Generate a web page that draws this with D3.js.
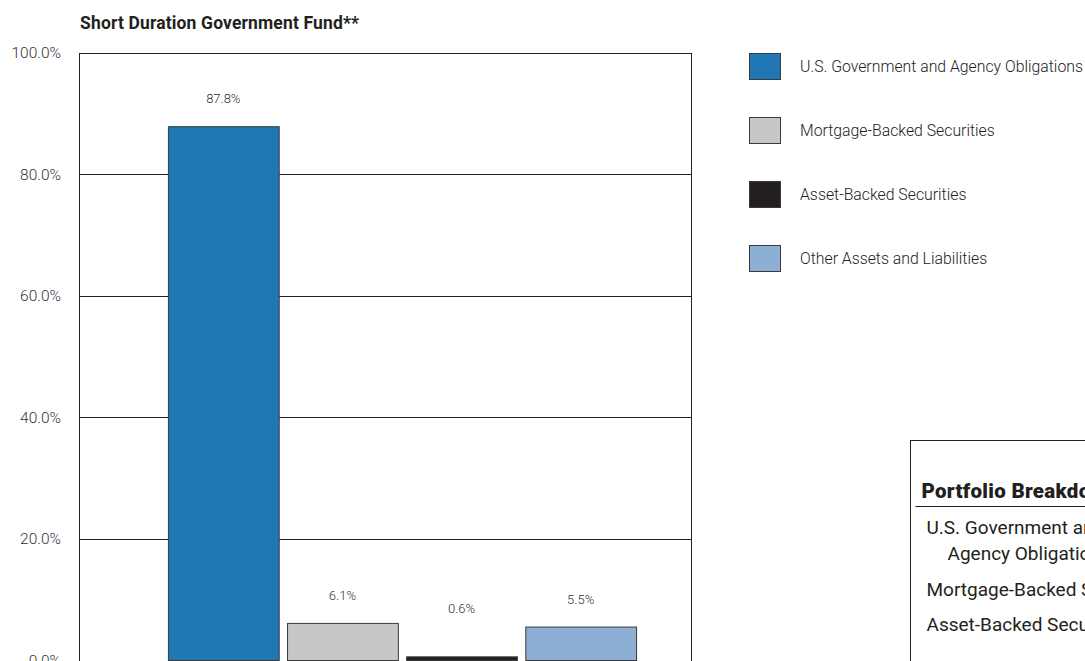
<!DOCTYPE html>
<html>
<head>
<meta charset="utf-8">
<script src="https://cdn.jsdelivr.net/npm/d3@7/dist/d3.min.js"></script>
<style>
  html, body { margin: 0; padding: 0; background: #fff; }
  svg { display: block; font-family: Roboto, "Open Sans", "DejaVu Sans", sans-serif; }
</style>
</head>
<body>
<svg id="chart" width="1085" height="661"></svg>
<script>
// Portfolio composition, percent of net assets
const categories = [
  "U.S. Government and Agency Obligations",
  "Mortgage-Backed Securities",
  "Asset-Backed Securities",
  "Other Assets and Liabilities"
];
const values = [87.8, 6.1, 0.6, 5.5];
const colors = ["#1f77b5", "#c6c7c9", "#231f20", "#8daed5"];
const yTicks = [0, 20, 40, 60, 80, 100];
const title = "Short Duration Government Fund**";
const tableTitle = "Portfolio Breakdown";
const tableRows = [
  ["U.S. Government and", "Agency Obligations"],
  ["Mortgage-Backed Securities"],
  ["Asset-Backed Securities"]
];

const svg = d3.select("#chart");
const ink = "#231f20";

// plot frame
const plot = { left: 79, right: 691, top: 52.5, bottom: 660.5 };

const y = d3.scaleLinear().domain([0, 100]).range([plot.bottom, plot.top]);
const x = d3.scaleBand()
  .domain(categories)
  .range([163.75, 640.25])
  .paddingInner(0.07)
  .paddingOuter(0.035);

// title
svg.append("text")
  .attr("x", 80).attr("y", 29)
  .attr("font-size", 17.5).attr("font-weight", 700)
  .attr("letter-spacing", 0.15)
  .attr("fill", ink)
  .text(title);

// horizontal gridlines
svg.append("g").selectAll("line")
  .data(yTicks)
  .join("line")
  .attr("x1", plot.left).attr("x2", plot.right)
  .attr("y1", d => Math.round(y(d)) + 0.5).attr("y2", d => Math.round(y(d)) + 0.5)
  .attr("stroke", ink).attr("stroke-width", 1);

// frame
svg.append("rect")
  .attr("x", plot.left + 0.5).attr("y", Math.round(plot.top) + 0.5)
  .attr("width", plot.right - plot.left)
  .attr("height", Math.round(plot.bottom) - Math.round(plot.top))
  .attr("fill", "none").attr("stroke", ink).attr("stroke-width", 1);

// y axis labels
const yAxis = d3.axisLeft(y)
  .tickValues(yTicks)
  .tickSize(0)
  .tickPadding(18)
  .tickFormat(d => d3.format(".1f")(d) + "%");
const ya = svg.append("g")
  .attr("transform", `translate(${plot.left},0)`)
  .call(yAxis);
ya.select(".domain").remove();
ya.selectAll("text")
  .attr("font-size", 15.5)
  .attr("font-family", "Roboto, sans-serif")
  .attr("font-weight", 300)
  .attr("fill", "#333");

// bars
svg.append("g").selectAll("rect")
  .data(values)
  .join("rect")
  .attr("x", (d, i) => x(categories[i]) + 0.5)
  .attr("y", d => y(d))
  .attr("width", x.bandwidth())
  .attr("height", d => y(0) - y(d))
  .attr("fill", (d, i) => colors[i])
  .attr("stroke", "#3a3a3a").attr("stroke-width", 1);

// value labels, kept clear of the baseline for very short bars
svg.append("g").selectAll("text")
  .data(values)
  .join("text")
  .attr("x", (d, i) => x(categories[i]) + x.bandwidth() / 2)
  .attr("y", d => Math.min(y(d) - 28, y(0) - 52))
  .attr("dy", "0.35em")
  .attr("text-anchor", "middle")
  .attr("font-size", 13)
  .attr("font-weight", 300)
  .attr("fill", "#333")
  .text(d => d3.format(".1f")(d) + "%");

// legend
const legend = svg.append("g").attr("transform", "translate(749.5,53.5)");
const item = legend.selectAll("g")
  .data(categories)
  .join("g")
  .attr("transform", (d, i) => `translate(0,${i * 64})`);
item.append("rect")
  .attr("width", 31).attr("height", 26)
  .attr("fill", (d, i) => colors[i])
  .attr("stroke", "#3a3a3a").attr("stroke-width", 1);
item.append("text")
  .attr("x", 50.5).attr("y", 13)
  .attr("dy", "0.35em")
  .attr("font-size", 15.8)
  .attr("font-weight", 300)
  .attr("fill", "#222")
  .text(d => d);

// breakdown table
const tbl = svg.append("g").attr("transform", "translate(910.5,440.5)");
tbl.append("rect")
  .attr("width", 400).attr("height", 400)
  .attr("fill", "#fff").attr("stroke", ink).attr("stroke-width", 1);
tbl.append("text")
  .attr("x", 11).attr("y", 50)
  .attr("dy", "0.35em")
  .attr("font-size", 20.5).attr("font-weight", 900)
  .attr("letter-spacing", 0.3)
  .attr("fill", ink)
  .text(tableTitle);
tbl.append("line")
  .attr("x1", 5).attr("x2", 400)
  .attr("y1", 66).attr("y2", 66)
  .attr("stroke", ink).attr("stroke-width", 1);

const rowY = [[87, 113], [149], [184]];
tableRows.forEach((lines, r) => {
  lines.forEach((t, k) => {
    tbl.append("text")
      .attr("x", k === 0 ? 16 : 37)
      .attr("y", rowY[r][k])
      .attr("dy", "0.35em")
      .attr("font-size", 19)
      .attr("fill", ink)
      .text(t);
  });
});
</script>
</body>
</html>
